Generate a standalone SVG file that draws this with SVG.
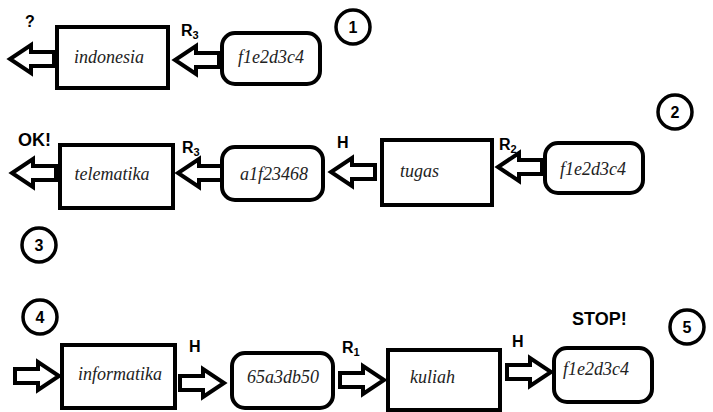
<svg xmlns="http://www.w3.org/2000/svg" width="713" height="412" viewBox="0 0 713 412">
<style>
.box{fill:#fff;stroke:#000;stroke-width:4}
.rbox{fill:#fff;stroke:#000;stroke-width:4}
.arr{fill:#fff;stroke:#000;stroke-width:4;stroke-linejoin:miter}
.lbl{font-family:"Liberation Serif",serif;font-style:italic;font-size:18px;fill:#222}
.tag{font-family:"Liberation Sans",Arial,sans-serif;font-weight:bold;font-size:16px;fill:#000}
.big{font-family:"Liberation Sans",Arial,sans-serif;font-weight:bold;font-size:18px;fill:#000}
.sub{font-size:11px}
.num{font-family:"Liberation Sans",Arial,sans-serif;font-weight:bold;font-size:16px;fill:#000;text-anchor:middle}
.circ{fill:#fff;stroke:#000;stroke-width:3.5}
</style>
<defs>
<path id="ar" d="M0,-7 H23 V-14 L44,0 L23,14 V7 H0 Z"/>
</defs>
<g id="connectors">
<use href="#ar" class="arr" transform="translate(54,59) scale(-1,1)"/>
<use href="#ar" class="arr" transform="translate(219,60) scale(-1,1)"/>
<use href="#ar" class="arr" transform="translate(56,173) scale(-1,1)"/>
<use href="#ar" class="arr" transform="translate(222,173) scale(-1,1)"/>
<use href="#ar" class="arr" transform="translate(375,172) scale(-1,1)"/>
<use href="#ar" class="arr" transform="translate(542,167) scale(-1,1)"/>
<use href="#ar" class="arr" transform="translate(15,376)"/>
<use href="#ar" class="arr" transform="translate(180,383)"/>
<use href="#ar" class="arr" transform="translate(340,380)"/>
<use href="#ar" class="arr" transform="translate(507,372)"/>
</g>
<g id="labels">
<text class="tag" x="25" y="27">?</text>
<text class="tag" x="181" y="36">R<tspan class="sub" dy="3">3</tspan></text>
<text class="big" x="18" y="146">OK!</text>
<text class="tag" x="182" y="153">R<tspan class="sub" dy="3">3</tspan></text>
<text class="tag" x="337" y="148">H</text>
<text class="tag" x="499" y="150">R<tspan class="sub" dy="3">2</tspan></text>
<text class="tag" x="189" y="352">H</text>
<text class="tag" x="342" y="353">R<tspan class="sub" dy="3">1</tspan></text>
<text class="tag" x="512" y="347">H</text>
<text class="big" x="572" y="325">STOP!</text>
</g>
<g id="n-indonesia"><rect class="box" x="57" y="27" width="111" height="61"/><text class="lbl" x="109" y="63" text-anchor="middle">indonesia</text></g>
<g id="n-f1e2d3c4-1"><rect class="rbox" x="222" y="33" width="98" height="51" rx="13"/><text class="lbl" x="271" y="63" text-anchor="middle">f1e2d3c4</text></g>
<g id="c1"><circle class="circ" cx="353" cy="27" r="17"/><text class="num" x="353" y="33">1</text></g>
<g id="n-telematika"><rect class="box" x="60" y="145" width="113" height="63"/><text class="lbl" x="112" y="180" text-anchor="middle">telematika</text></g>
<g id="n-a1f23468"><rect class="rbox" x="222" y="147" width="101" height="53" rx="13"/><text class="lbl" x="274" y="180" text-anchor="middle">a1f23468</text></g>
<g id="n-tugas"><rect class="box" x="382" y="140" width="110" height="65"/><text class="lbl" x="400" y="177">tugas</text></g>
<g id="n-f1e2d3c4-2"><rect class="rbox" x="545" y="143" width="98" height="50" rx="13"/><text class="lbl" x="593" y="175" text-anchor="middle">f1e2d3c4</text></g>
<g id="c2"><circle class="circ" cx="675" cy="112" r="17"/><text class="num" x="675" y="118">2</text></g>
<g id="c3"><circle class="circ" cx="39" cy="245" r="17"/><text class="num" x="39" y="251">3</text></g>
<g id="c4"><circle class="circ" cx="40" cy="317" r="17"/><text class="num" x="40" y="323">4</text></g>
<g id="n-informatika"><rect class="box" x="62" y="345" width="113" height="63"/><text class="lbl" x="120" y="380" text-anchor="middle">informatika</text></g>
<g id="n-65a3db50"><rect class="rbox" x="232" y="353" width="101" height="55" rx="13"/><text class="lbl" x="283" y="383" text-anchor="middle">65a3db50</text></g>
<g id="n-kuliah"><rect class="box" x="388" y="350" width="112" height="60"/><text class="lbl" x="410" y="383">kuliah</text></g>
<g id="n-f1e2d3c4-3"><rect class="rbox" x="554" y="348" width="98" height="54" rx="13"/><text class="lbl" x="563" y="375">f1e2d3c4</text></g>
<g id="c5"><circle class="circ" cx="687" cy="327" r="17"/><text class="num" x="687" y="333">5</text></g>
</svg>
